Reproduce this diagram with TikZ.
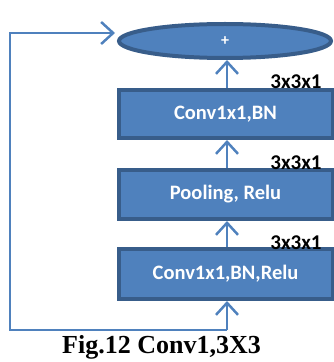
\documentclass[tikz,border=0pt]{standalone}
\usepackage{fontspec}
\setmainfont{Carlito}
\newfontfamily\capfont{Liberation Serif}
\usetikzlibrary{arrows.meta,shapes.geometric}
\definecolor{boxfill}{HTML}{4F81BD}
\definecolor{boxline}{HTML}{385D8A}
\tikzset{
  blk/.style={draw=boxline, fill=boxfill, line width=4pt, minimum width=214pt, inner sep=0pt, text=white, font=\fontsize{20.5}{22}\selectfont\bfseries},
  ell/.style={ellipse, draw=boxline, fill=boxfill, line width=4pt, minimum width=212pt, minimum height=34pt, inner sep=0pt, text=white, font=\fontsize{16}{18}\selectfont\bfseries},
  conn/.style={draw=boxfill, line width=2.5pt, -{Straight Barb[length=12pt,width=22pt,line width=2.5pt]}},
  lbl/.style={font=\fontsize{21}{23}\selectfont\bfseries, text=black, inner sep=0pt},
}
\begin{document}
\begin{tikzpicture}[x=1pt,y=1pt]
\useasboundingbox (0,0) rectangle (334,362);
\node[ell] (sum) at (225,321) {+};
\node[blk, minimum height=48pt] (b1) at (225.5,248) {Conv1x1,BN};
\node[blk, minimum height=49pt] (b2) at (225.5,167.5) {Pooling, Relu};
\node[blk, minimum height=50pt] (b3) at (225.5,88) {Conv1x1,BN,Relu};
\node[lbl] (l1) at (296,280) {3x3x1};
\node[lbl] (l2) at (296,199) {3x3x1};
\node[lbl] (l3) at (296,119) {3x3x1};
\node[font=\capfont\fontsize{26}{28}\selectfont\bfseries, inner sep=0pt] (cap) at (161.5,15) {Fig.12 Conv1,3X3};
\coordinate (in) at (227,32);
\coordinate (lc) at (10,32);
\coordinate (tip) at (115,329);
\draw[conn] (b1.north -| 227,0) -- (sum.south -| 227,0);
\draw[conn] (b2.north -| 227,0) -- (b1.south -| 227,0);
\draw[conn] (b3.north -| 227,0) -- (b2.south -| 227,0);
\draw[conn] (in) -- (b3.south -| in);
\draw[conn] (in) -- (lc) |- (tip);
\end{tikzpicture}
\end{document}
